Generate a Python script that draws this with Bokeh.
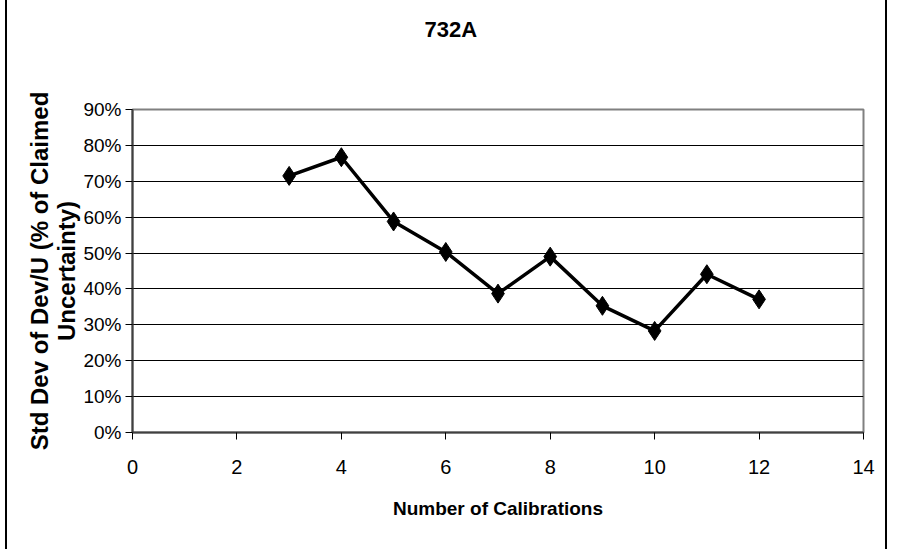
from bokeh.plotting import figure
from bokeh.models import Range1d, FixedTicker, NumeralTickFormatter, ColumnDataSource, Title
from bokeh.embed import file_html
from bokeh.resources import INLINE

# ---- data ----
calibrations = [3, 4, 5, 6, 7, 8, 9, 10, 11, 12]
std_dev_pct = [0.715, 0.767, 0.588, 0.503, 0.387, 0.490, 0.353, 0.283, 0.441, 0.371]
x_ticks = [0, 2, 4, 6, 8, 10, 12, 14]
y_ticks = [0.0, 0.1, 0.2, 0.3, 0.4, 0.5, 0.6, 0.7, 0.8, 0.9]
title_text = "732A"
x_label = "Number of Calibrations"
y_label = "Std Dev of Dev/U (% of Claimed\nUncertainty)"

FONT = "'Liberation Sans', Arial, sans-serif"

x0, x1 = x_ticks[0], x_ticks[-1]
y0, y1 = y_ticks[0], y_ticks[-1]

p = figure(width=882, height=552, output_backend="svg", toolbar_location=None,
           x_range=Range1d(x0, x1), y_range=Range1d(y0, y1),
           min_border_left=125, min_border_right=26,
           min_border_top=110, min_border_bottom=119)
p.styles = {"border-top": "2px solid #202020", "border-left": "2px solid black",
            "border-right": "2px solid black",
            "margin-left": "5px", "margin-top": "-3px", "margin-bottom": "-12px"}

src = ColumnDataSource(dict(x=calibrations, y=std_dev_pct))
p.line("x", "y", source=src, line_color="black", line_width=3.5)
p.scatter("x", "y", source=src, marker="diamond", size=19,
          fill_color="black", line_color="black")

# empty spacer between the plot area and the chart title
p.add_layout(Title(text=" ", text_font_size="1px", standoff=60), "above")

# chart title (outermost in the top panel)
p.title.text = title_text
p.title.align = "left"
p.title.offset = 292
p.title.standoff = 10
p.title.text_font = FONT
p.title.text_font_size = "22px"
p.title.text_font_style = "bold"
p.title.text_color = "black"

# frame
p.outline_line_color = "#808080"
p.outline_line_width = 2
p.background_fill_color = "white"
p.border_fill_color = "white"

# grid
p.xgrid.grid_line_color = None
p.ygrid.grid_line_color = "black"
p.ygrid.grid_line_width = 1
p.ygrid.ticker = FixedTicker(ticks=y_ticks)

# x axis
p.xaxis.ticker = FixedTicker(ticks=x_ticks)
p.xaxis.axis_label = x_label
p.xaxis.axis_label_text_font = FONT
p.xaxis.axis_label_text_font_size = "19px"
p.xaxis.axis_label_text_font_style = "bold"
p.xaxis.axis_label_text_color = "black"
p.xaxis.axis_label_standoff = 21
p.xaxis.major_label_text_font = FONT
p.xaxis.major_label_text_font_size = "20px"
p.xaxis.major_label_text_color = "black"
p.xaxis.major_label_standoff = 20

# y axis
p.yaxis.ticker = FixedTicker(ticks=y_ticks)
p.yaxis.formatter = NumeralTickFormatter(format="0%")
p.yaxis.axis_label = y_label
p.yaxis.axis_label_text_font = FONT
p.yaxis.axis_label_text_font_size = "24px"
p.yaxis.axis_label_text_font_style = "bold"
p.yaxis.axis_label_text_color = "black"
p.yaxis.axis_label_standoff = 0
p.yaxis.axis_label_text_line_height = 1.0
p.yaxis.major_label_text_font = FONT
p.yaxis.major_label_text_font_size = "19px"
p.yaxis.major_label_text_color = "black"
p.yaxis.major_label_standoff = 4

for ax in (p.xaxis, p.yaxis):
    ax.axis_line_color = "#404040"
    ax.axis_line_width = 2
    ax.major_tick_line_color = "black"
    ax.major_tick_line_width = 1
    ax.major_tick_in = 0
    ax.major_tick_out = 7
    ax.minor_tick_line_color = None

open("out.html", "w").write(file_html(p, INLINE))
